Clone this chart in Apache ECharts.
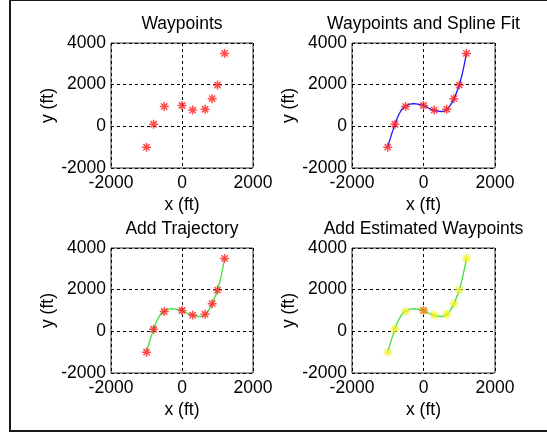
<!DOCTYPE html>
<html>
<head>
<meta charset="utf-8">
<script src="https://cdn.jsdelivr.net/npm/echarts@6/dist/echarts.min.js"></script>
<style>
  html, body { margin: 0; padding: 0; background: #fff; }
  #chart { width: 547px; height: 435px; }
</style>
</head>
<body>
<div id="chart"></div>
<script>
// waypoints (ft)
var wayX = [-1000, -800, -500, 0, 300, 650, 850, 1000, 1200]
var wayY = [-1000, 100, 950, 1000, 780, 820, 1330, 1980, 3500]
// spline fit
var splineX = [-1000, -950, -900, -850, -800, -750, -700, -650, -600, -550, -500, -450, -400, -350, -300, -250, -200, -150, -100, -50, 0, 50, 100, 150, 200, 250, 300, 350, 400, 450, 500, 550, 600, 650, 700, 750, 800, 850, 900, 950, 1000, 1050, 1100, 1150, 1200]
var splineY = [-1000, -700, -420, -160, 100, 330, 530, 690, 820, 910, 960, 1010, 1050, 1075, 1085, 1085, 1075, 1060, 1040, 1020, 1000, 960, 915, 870, 825, 790, 770, 745, 725, 715, 712, 720, 745, 800, 890, 1010, 1150, 1320, 1520, 1740, 1980, 2290, 2640, 3050, 3500]
// current estimated waypoint
var curX = [0]
var curY = [1000]
var xTicks = ['-2000', '0', '2000']
var yTicks = ['-2000', '0', '2000', '4000']
var titles = ['Waypoints', 'Waypoints and Spline Fit', 'Add Trajectory', 'Add Estimated Waypoints']

var FONT = '"Liberation Sans", Arial, Helvetica, sans-serif'
var STAR = 'path://M0,4L8,4M4,0L4,8M1.2,1.2L6.8,6.8M6.8,1.2L1.2,6.8'

function pairs (xs, ys) {
  return xs.map(function (x, i) { return [x, ys[i]] })
}

var boxes = [
  { left: 111, top: 43, width: 142, height: 125 },
  { left: 352, top: 43, width: 143, height: 125 },
  { left: 111, top: 248, width: 142, height: 125 },
  { left: 352, top: 248, width: 143, height: 125 }
]

var grids = []
var xAxes = []
var yAxes = []
var titleList = []
boxes.forEach(function (b, i) {
  grids.push({
    left: b.left,
    top: b.top,
    width: b.width,
    height: b.height,
    show: true,
    borderColor: '#333',
    borderWidth: 1,
    backgroundColor: '#fff'
  })
  var dash = { show: true, lineStyle: { color: '#000', type: [3, 3], width: 1 } }
  xAxes.push({
    type: 'value',
    gridIndex: i,
    min: -2000,
    max: 2000,
    interval: 2000,
    name: 'x (ft)',
    nameLocation: 'middle',
    nameGap: 28,
    nameTextStyle: { color: '#000', fontSize: 17.5, fontFamily: FONT },
    axisLine: { show: false },
    axisTick: { show: false },
    axisLabel: {
      color: '#000',
      fontSize: 17.5,
      fontFamily: FONT,
      margin: 6,
      formatter: function (v) { return xTicks[(v + 2000) / 2000] }
    },
    splitLine: dash
  })
  yAxes.push({
    type: 'value',
    gridIndex: i,
    min: -2000,
    max: 4000,
    interval: 2000,
    name: 'y (ft)',
    nameLocation: 'middle',
    nameGap: 54,
    nameTextStyle: { color: '#000', fontSize: 17.5, fontFamily: FONT },
    axisLine: { show: false },
    axisTick: { show: false },
    axisLabel: {
      color: '#000',
      fontSize: 17.5,
      fontFamily: FONT,
      margin: 5,
      formatter: function (v) { return yTicks[(v + 2000) / 2000] }
    },
    splitLine: dash
  })
  titleList.push({
    text: titles[i],
    left: b.left + b.width / 2,
    top: i < 2 ? 15 : 220,
    textAlign: 'center',
    padding: 0,
    textStyle: { color: '#000', fontSize: 17.5, fontWeight: 'normal', fontFamily: FONT }
  })
})

function stars (i, xs, ys, color) {
  return {
    type: 'scatter',
    xAxisIndex: i,
    yAxisIndex: i,
    data: pairs(xs, ys),
    symbol: STAR,
    symbolSize: 9,
    itemStyle: { color: color, borderColor: color, borderWidth: 1.5 },
    z: 5
  }
}

function curve (i, color) {
  return {
    type: 'line',
    xAxisIndex: i,
    yAxisIndex: i,
    data: pairs(splineX, splineY),
    showSymbol: false,
    smooth: true,
    lineStyle: { color: color, width: 1.3 },
    z: 3
  }
}

var chart = echarts.init(document.getElementById('chart'), null, { renderer: 'canvas' })
chart.setOption({
  animation: false,
  backgroundColor: '#fff',
  title: titleList,
  grid: grids,
  xAxis: xAxes,
  yAxis: yAxes,
  graphic: [{
    type: 'rect',
    shape: { x: 10, y: 0, width: 600, height: 431 },
    style: { fill: 'none', stroke: '#1a1a1a', lineWidth: 2 },
    silent: true,
    z: 100
  }],
  series: [
    stars(0, wayX, wayY, '#ff2020'),
    curve(1, '#1a1aff'),
    stars(1, wayX, wayY, '#ff2020'),
    curve(2, '#40e040'),
    stars(2, wayX, wayY, '#ff2020'),
    curve(3, '#40e040'),
    stars(3, wayX, wayY, '#f0f020'),
    stars(3, curX, curY, '#f07020')
  ]
})
</script>
</body>
</html>
